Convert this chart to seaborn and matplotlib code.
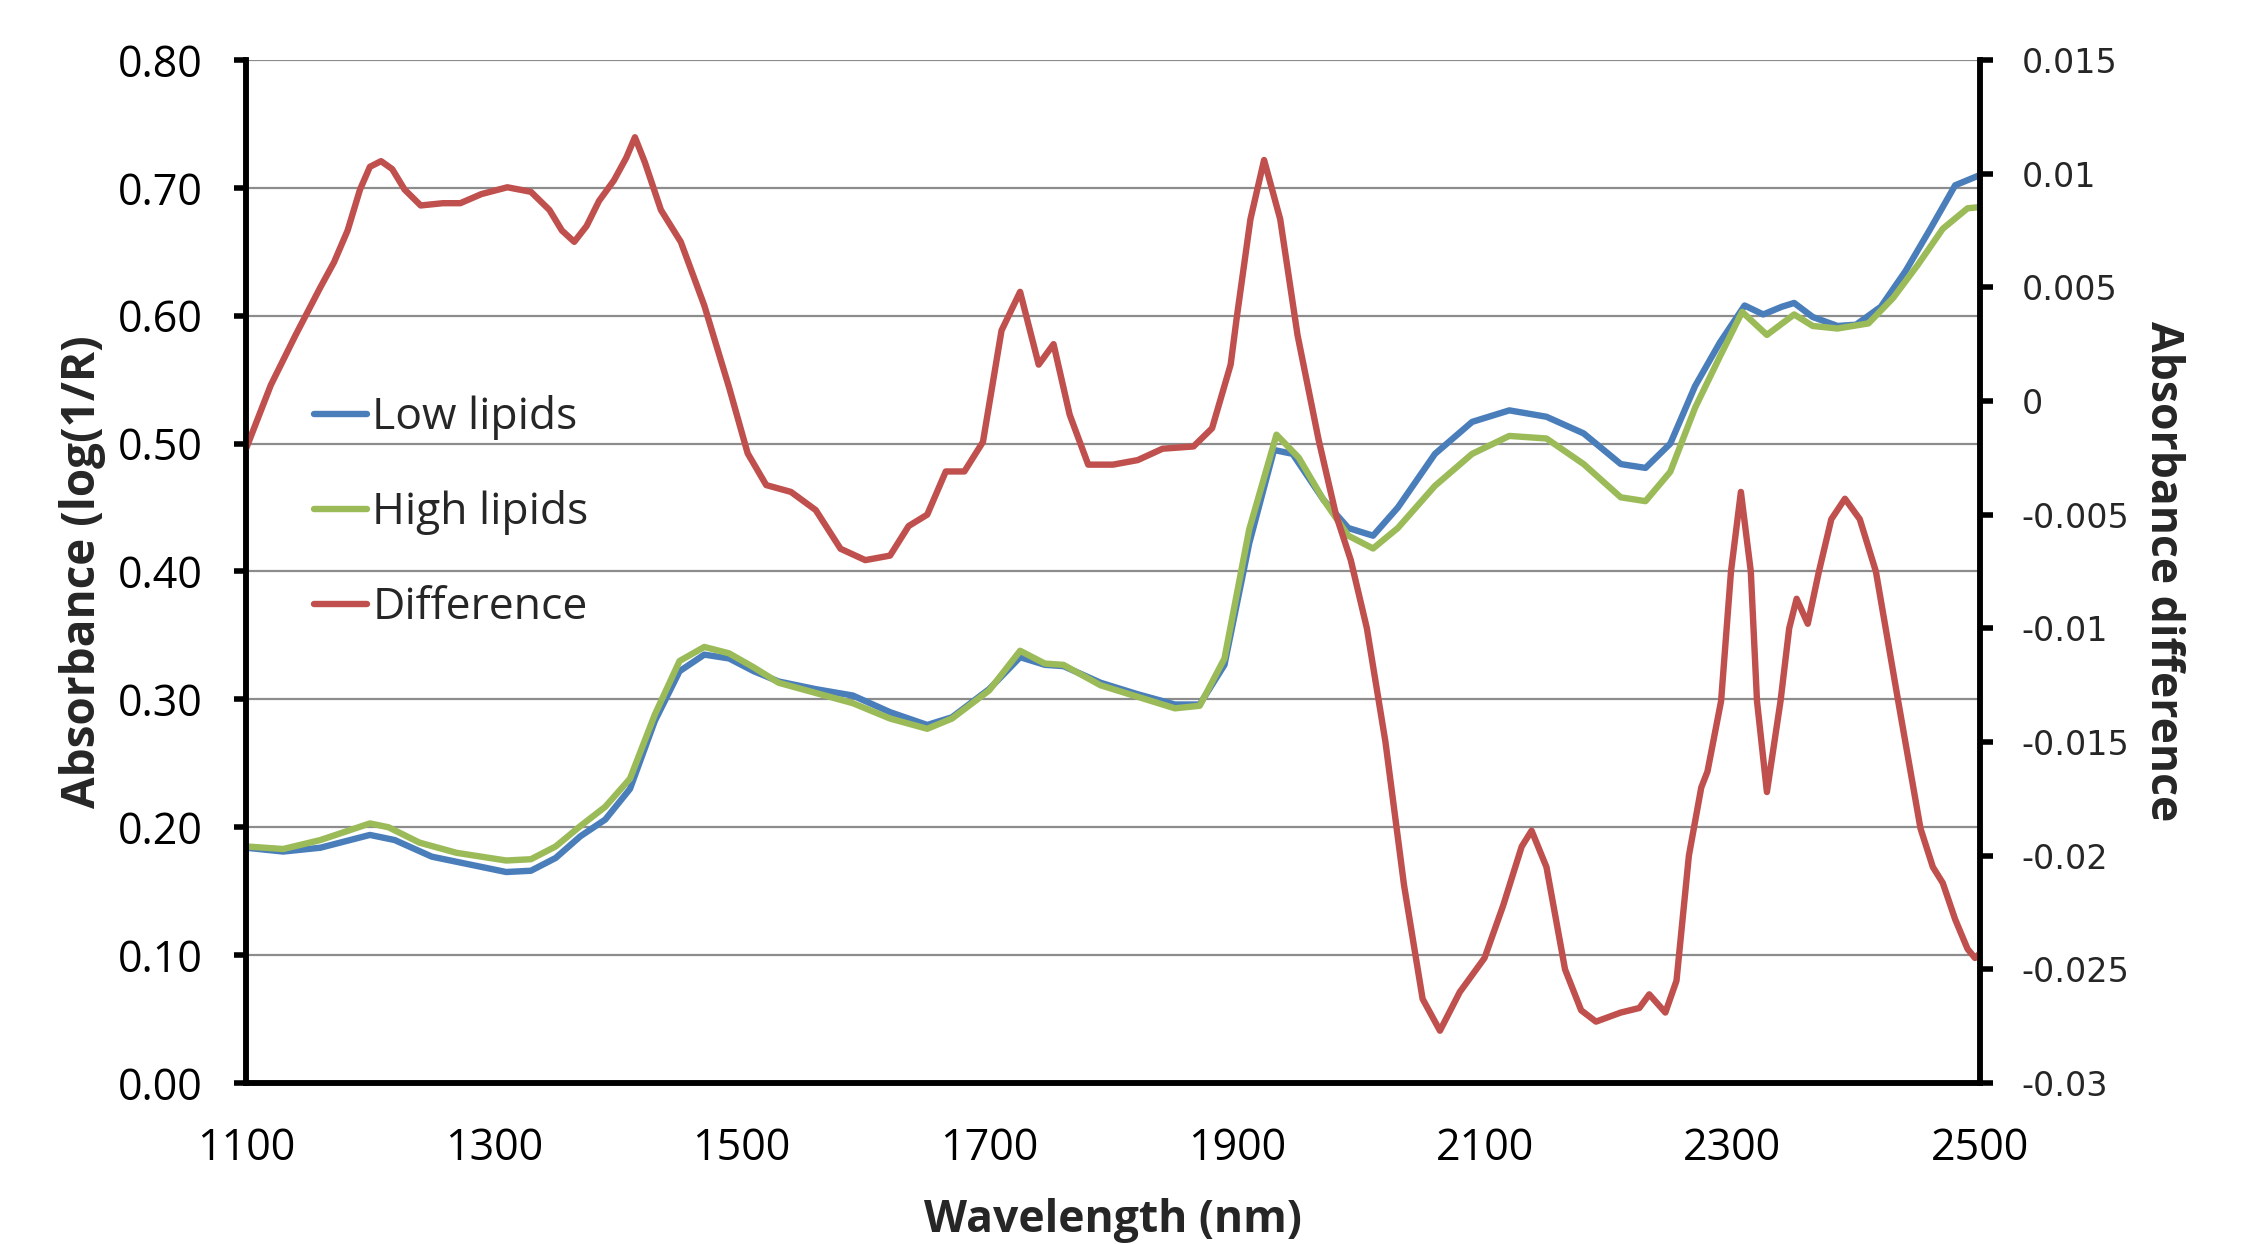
import numpy as np
import pandas as pd
import matplotlib
matplotlib.use("Agg")
import matplotlib.pyplot as plt
import seaborn as sns

# values
wl_low = [1100, 1130, 1160, 1200, 1220, 1250, 1280, 1310, 1330, 1350, 1370, 1390,
          1410, 1430, 1450, 1470, 1490, 1510, 1530, 1560, 1590, 1620, 1650, 1670,
          1700, 1725, 1745, 1760, 1790, 1820, 1850, 1870, 1890, 1910, 1930, 1945,
          1970, 1990, 2010, 2030, 2060, 2090, 2120, 2150, 2180, 2210, 2230, 2250,
          2270, 2290, 2310, 2325, 2340, 2350, 2365, 2385, 2400, 2420, 2440, 2460,
          2480, 2500]
abs_low = [0.184, 0.181, 0.184, 0.194, 0.190, 0.177, 0.171, 0.165, 0.166, 0.176, 0.193, 0.206,
           0.230, 0.283, 0.322, 0.335, 0.332, 0.322, 0.314, 0.308, 0.303, 0.290, 0.280, 0.286,
           0.308, 0.333, 0.327, 0.326, 0.313, 0.304, 0.296, 0.296, 0.327, 0.422, 0.495, 0.492,
           0.456, 0.434, 0.428, 0.450, 0.492, 0.517, 0.526, 0.521, 0.508, 0.484, 0.481, 0.500,
           0.545, 0.579, 0.608, 0.601, 0.607, 0.610, 0.599, 0.592, 0.593, 0.607, 0.635, 0.668,
           0.702, 0.710]

wl_high = [1100, 1130, 1160, 1200, 1215, 1240, 1270, 1310, 1330, 1350, 1370, 1390,
           1410, 1430, 1450, 1470, 1490, 1510, 1530, 1560, 1590, 1620, 1650, 1670,
           1700, 1725, 1745, 1760, 1790, 1820, 1850, 1870, 1890, 1910, 1932, 1950,
           1970, 1990, 2010, 2030, 2060, 2090, 2120, 2150, 2180, 2210, 2230, 2250,
           2270, 2290, 2308, 2328, 2350, 2365, 2385, 2410, 2430, 2450, 2470, 2490,
           2500]
abs_high = [0.185, 0.183, 0.190, 0.203, 0.200, 0.188, 0.180, 0.174, 0.175, 0.185, 0.201, 0.216,
            0.238, 0.288, 0.330, 0.341, 0.336, 0.325, 0.313, 0.305, 0.297, 0.285, 0.277, 0.285,
            0.307, 0.338, 0.328, 0.327, 0.311, 0.302, 0.293, 0.295, 0.332, 0.433, 0.507, 0.489,
            0.456, 0.428, 0.418, 0.434, 0.467, 0.492, 0.506, 0.504, 0.484, 0.458, 0.455, 0.478,
            0.528, 0.568, 0.603, 0.585, 0.601, 0.592, 0.590, 0.594, 0.614, 0.640, 0.668, 0.684,
            0.685]

wl_diff = [1100, 1120, 1140, 1160, 1171, 1182, 1192, 1200, 1209, 1218, 1228, 1241,
           1259, 1273, 1290, 1311, 1330, 1345, 1355, 1365, 1375, 1385, 1397, 1407,
           1414, 1422, 1435, 1451, 1470, 1490, 1505, 1520, 1540, 1560, 1580, 1600,
           1620, 1635, 1650, 1665, 1680, 1695, 1710, 1725, 1740, 1752, 1765, 1780,
           1800, 1820, 1840, 1865, 1880, 1895, 1900, 1911, 1922, 1935, 1949, 1966,
           1980, 1992, 2005, 2020, 2035, 2050, 2064, 2080, 2100, 2115, 2130, 2138,
           2150, 2165, 2178, 2190, 2210, 2225, 2233, 2246, 2255, 2265, 2275, 2280,
           2291, 2299, 2307, 2315, 2320, 2328, 2339, 2346, 2352, 2361, 2370, 2380,
           2391, 2403, 2416, 2434, 2452, 2462, 2470, 2480, 2490, 2496, 2500]
diff = [-0.0021, 0.0007, 0.0029, 0.0050, 0.0061, 0.0075, 0.0093, 0.0103, 0.01055, 0.0102, 0.0093, 0.0086,
        0.0087, 0.0087, 0.0091, 0.0094, 0.0092, 0.0084, 0.0075, 0.0070, 0.0077, 0.0088, 0.0097, 0.0107,
        0.0116, 0.0105, 0.0084, 0.0070, 0.0042, 0.0006, -0.0023, -0.0037, -0.0040, -0.0048, -0.0065, -0.0070,
        -0.0068, -0.0055, -0.0050, -0.0031, -0.0031, -0.0018, 0.0031, 0.0048, 0.0016, 0.0025, -0.0006, -0.0028,
        -0.0028, -0.0026, -0.0021, -0.0020, -0.0012, 0.0016, 0.0037, 0.0080, 0.0106, 0.0080, 0.0029, -0.0017,
        -0.0050, -0.0070, -0.0100, -0.0150, -0.0213, -0.0263, -0.0277, -0.0260, -0.0245, -0.0222, -0.0196, -0.0189,
        -0.0205, -0.0250, -0.0268, -0.0273, -0.0269, -0.0267, -0.0261, -0.0269, -0.0255, -0.0200, -0.0170, -0.0163,
        -0.0132, -0.0075, -0.0040, -0.0075, -0.0132, -0.0172, -0.0132, -0.0100, -0.0087, -0.0098, -0.0075, -0.0052,
        -0.0043, -0.0052, -0.0075, -0.0132, -0.0188, -0.0205, -0.0212, -0.0228, -0.0241, -0.0245, -0.0243]

x_ticks = [1100, 1300, 1500, 1700, 1900, 2100, 2300, 2500]
left_ticks = [0.0, 0.1, 0.2, 0.3, 0.4, 0.5, 0.6, 0.7, 0.8]
right_ticks = [-0.03, -0.025, -0.02, -0.015, -0.01, -0.005, 0, 0.005, 0.01, 0.015]
right_labels = ["-0.03", "-0.025", "-0.02", "-0.015", "-0.01", "-0.005", "0", "0.005", "0.01", "0.015"]

BLUE = "#4A7EBB"
GREEN = "#9BBB59"
RED = "#C0504D"

sns.set_theme(style="white")
plt.rcParams["font.family"] = ["Open Sans", "DejaVu Sans"]

fig = plt.figure(figsize=(22.41, 12.44), dpi=100)
ax = fig.add_axes([0.1098, 0.1294, 0.7737, 0.8224])
ax2 = ax.twinx()

df_low = pd.DataFrame({"wl": wl_low, "val": abs_low})
df_high = pd.DataFrame({"wl": wl_high, "val": abs_high})
df_diff = pd.DataFrame({"wl": wl_diff, "val": diff})

line_kw = dict(solid_joinstyle="round", solid_capstyle="round", legend=False)
sns.lineplot(data=df_low, x="wl", y="val", ax=ax, color=BLUE, label="Low lipids", **line_kw)
sns.lineplot(data=df_high, x="wl", y="val", ax=ax, color=GREEN, label="High lipids", **line_kw)
sns.lineplot(data=df_diff, x="wl", y="val", ax=ax2, color=RED, label="Difference", **line_kw)

# seaborn can reset the width, so set it on the lines themselves
for line in ax.get_lines() + ax2.get_lines():
    line.set_linewidth(4.6)

ax.set_xlim(1100, 2500)
ax.set_ylim(0, 0.8)
ax2.set_ylim(-0.03, 0.015)

ax.set_xticks(x_ticks)
ax.set_yticks(left_ticks)
ax.set_yticklabels([f"{v:.2f}" for v in left_ticks])
ax2.set_yticks(right_ticks)
ax2.set_yticklabels(right_labels, family="DejaVu Sans", fontsize=24)

ax.yaxis.grid(True, color="#8c8c8c", lw=1.6)
ax.xaxis.grid(False)
ax2.grid(False)

for a in (ax, ax2):
    a.spines["top"].set_visible(False)
    for side in ("left", "right", "bottom"):
        a.spines[side].set_color("black")
        a.spines[side].set_linewidth(4)

ax.tick_params(axis="both", which="major", direction="out", length=9, width=4,
               color="black", labelsize=31, labelcolor="black")
ax.tick_params(axis="x", pad=22)
ax.tick_params(axis="y", left=True, pad=22)
ax2.tick_params(axis="y", right=True, direction="out", length=9, width=4,
                color="black", pad=21)

ax.set_xlabel("Wavelength (nm)", fontsize=32, fontweight="bold", labelpad=20)
ax.set_ylabel("Absorbance (log(1/R)", fontsize=33, fontweight="bold", labelpad=9)
ax2.set_ylabel("Absorbance difference", fontsize=32, fontweight="bold", rotation=270, labelpad=40)

handles = ax.get_lines()[:2] + ax2.get_lines()[:1]
ax2.legend(handles, [h.get_label() for h in handles], loc="center left",
           bbox_to_anchor=(0.039, 0.5575), frameon=False, fontsize=32,
           handlelength=1.2, handletextpad=0.12, labelspacing=1.13,
           borderpad=0, borderaxespad=0)

fig.savefig("out.png", dpi=100)
